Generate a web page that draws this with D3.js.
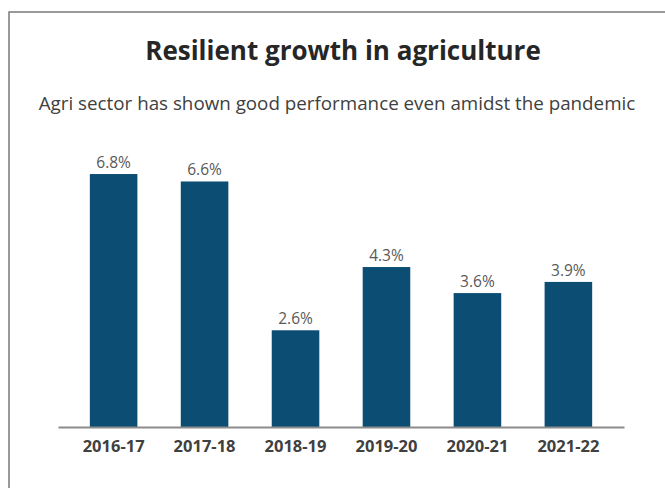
<!DOCTYPE html>
<html>
<head>
<meta charset="utf-8">
<script src="https://cdn.jsdelivr.net/npm/d3@7"></script>
<style>
  html, body { margin: 0; padding: 0; background: #ffffff; }
  svg { display: block; }
  text { font-family: "Open Sans", Lato, sans-serif; }
</style>
</head>
<body>
<svg id="chart" width="665" height="488"></svg>
<script>
// Agricultural growth by fiscal year (%)
const years = ["2016-17", "2017-18", "2018-19", "2019-20", "2020-21", "2021-22"];
const growth = [6.8, 6.6, 2.6, 4.3, 3.6, 3.9];
const titleText = "Resilient growth in agriculture";
const subtitleText = "Agri sector has shown good performance even amidst the pandemic";

const W = 665, H = 488;
const svg = d3.select("#chart");

// Outer frame (runs off the right and bottom edges)
svg.append("rect")
  .attr("x", 9).attr("y", 12)
  .attr("width", W).attr("height", H)
  .attr("fill", "#ffffff")
  .attr("stroke", "#7a7a7a")
  .attr("stroke-width", 1.5);

svg.append("text")
  .attr("x", 343).attr("y", 60)
  .attr("text-anchor", "middle")
  .attr("font-size", 26)
  .attr("font-weight", 700)
  .attr("fill", "#262626")
  .text(titleText);

svg.append("text")
  .attr("x", 337).attr("y", 110)
  .attr("text-anchor", "middle")
  .attr("font-size", 18.8)
  .attr("fill", "#404040")
  .text(subtitleText);

const baseY = 427;
const x = d3.scaleBand()
  .domain(years)
  .range([58, 624])
  .paddingInner(0.477)
  .paddingOuter(0.35);

const y = d3.scaleLinear()
  .domain([0, 8])
  .range([baseY, baseY - 8 * 37.2]);

const data = years.map((d, i) => ({ year: d, value: growth[i] }));

svg.append("g").selectAll("rect")
  .data(data)
  .join("rect")
  .attr("x", d => x(d.year))
  .attr("y", d => y(d.value))
  .attr("width", x.bandwidth())
  .attr("height", d => y(0) - y(d.value))
  .attr("fill", "#0b4d73");

svg.append("g").selectAll("text")
  .data(data)
  .join("text")
  .attr("x", d => x(d.year) + x.bandwidth() / 2)
  .attr("y", d => y(d.value) - 6)
  .attr("text-anchor", "middle")
  .attr("font-size", 15.5)
  .attr("fill", "#595959")
  .text(d => d.value.toFixed(1) + "%");

const axis = svg.append("g")
  .attr("transform", `translate(0,${baseY})`)
  .call(d3.axisBottom(x).tickSize(0).tickPadding(13).tickSizeOuter(0));

axis.select(".domain")
  .attr("stroke", "#8c8c8c")
  .attr("stroke-width", 2);

axis.selectAll("text")
  .attr("font-family", "'Open Sans', Lato, sans-serif")
  .attr("font-size", 16.5)
  .attr("font-weight", 700)
  .attr("fill", "#404040");
</script>
</body>
</html>
